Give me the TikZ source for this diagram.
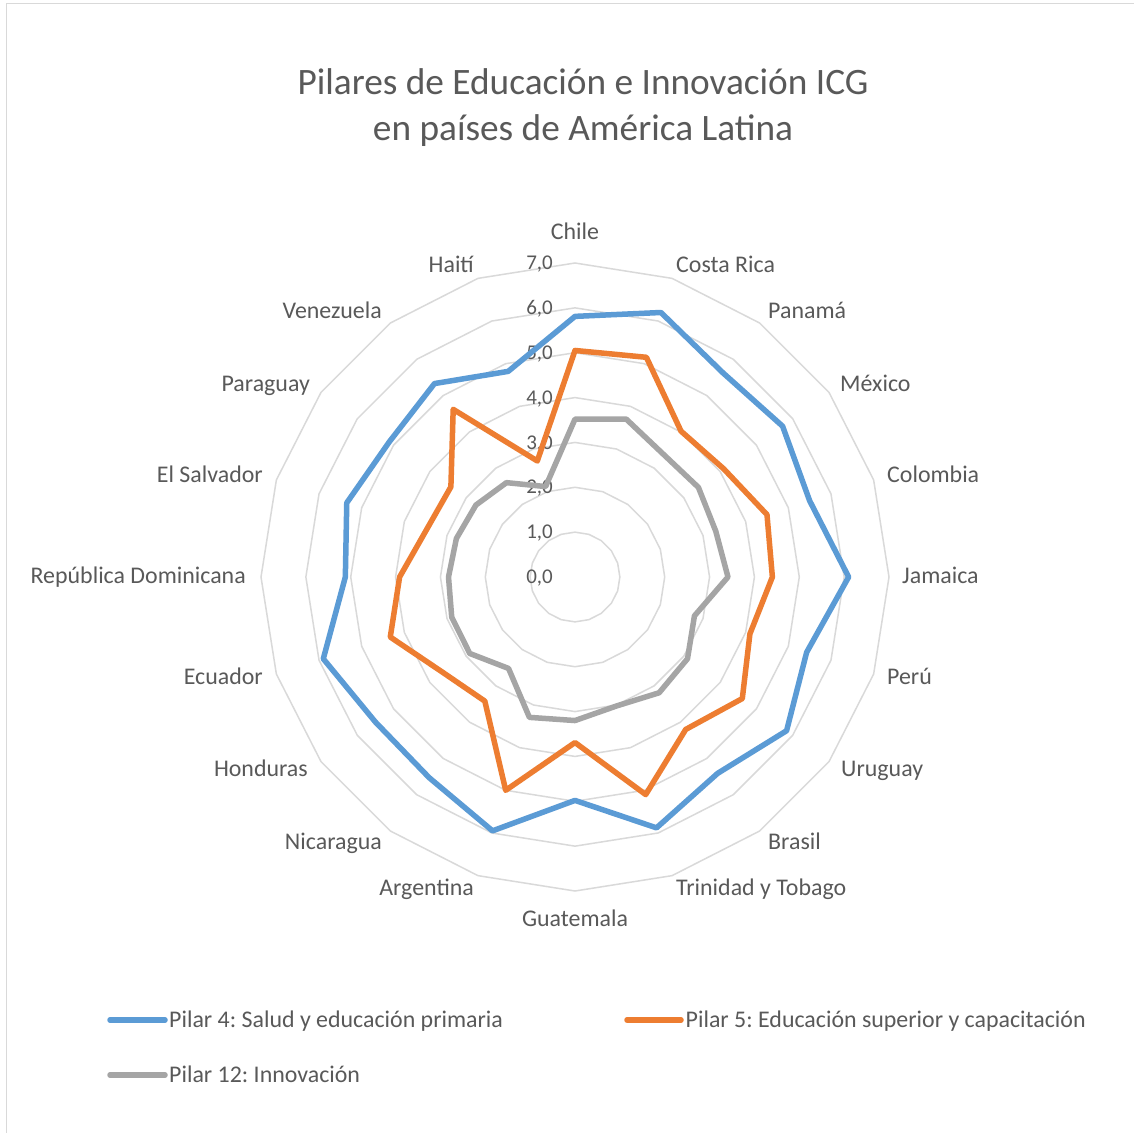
\documentclass[tikz,border=0pt]{standalone}
\usepackage{fontspec}
\setmainfont{Carlito}
\frenchspacing
\definecolor{sfour}{HTML}{5B9BD5}
\definecolor{sfive}{HTML}{ED7D31}
\definecolor{stwelve}{HTML}{A5A5A5}
\definecolor{gridc}{HTML}{D9D9D9}
\definecolor{txt}{HTML}{595959}
\begin{document}
\begin{tikzpicture}[x=1pt,y=-1pt,
  ser/.style={line width=5.5pt, line join=round},
  ring/.style={draw=gridc, line width=1.5pt},
  cat/.style={text=txt, font=\fontsize{23.9}{28}\selectfont, inner sep=0pt},
  ticklab/.style={text=txt, font=\fontsize{21}{25}\selectfont, inner sep=0pt, anchor=base east},
  ttl/.style={text=txt, font=\fontsize{37.3}{46}\selectfont, inner sep=0pt, anchor=base},
  legline/.style={line width=5.5pt, line cap=round}]
\useasboundingbox (0,0) rectangle (1134,1132);
\fill[white] (0,0) rectangle (1134,1132);
\draw[gridc, line width=1.5pt] (6.5,1140) -- (6.5,3.5) -- (1140,3.5);
% title
\node[ttl] (t1) at (583,94) {Pilares de Educación e Innovación ICG};
\node[ttl] (t2) at (583,140) {en países de América Latina};
\begin{scope}[shift={(575,577)}]
  \foreach \k in {1,...,7} {
    \draw[ring] (-90:{\k*44.857}) \foreach \i in {1,...,19}{ -- ({-90+18*\i}:{\k*44.857})} -- cycle;
  }
  \foreach \k in {0,...,7} {
    \node[ticklab] (tk\k) at (-22,{-\k*44.857+6.6}) {\k,0};
  }
  \foreach \v [count=\i from 0] in {5.81,6.2,5.62,5.72,5.5,6.1,5.43,5.83,5.41,5.88,4.98,5.95,5.53,5.5,5.9,5.12,5.35,5.12,5.33,4.82}
    { \coordinate (a\i) at ({-90+18*\i}:{\v*44.857}); }
  \foreach \v [count=\i from 0] in {5.05,5.15,4.02,4.1,4.5,4.4,4.1,4.61,4.2,5.1,3.69,5.0,3.42,3.63,4.33,3.91,3.47,3.42,4.62,2.72}
    { \coordinate (b\i) at ({-90+18*\i}:{\v*44.857}); }
  \foreach \v [count=\i from 0] in {3.52,3.7,3.37,3.4,3.3,3.41,2.8,3.1,3.19,3.02,3.2,3.29,2.52,2.9,2.89,2.82,2.78,2.73,2.6,2.12}
    { \coordinate (c\i) at ({-90+18*\i}:{\v*44.857}); }
  \draw[ser, sfour] (a0) \foreach \i in {1,...,19}{ -- (a\i)} -- cycle;
  \draw[ser, sfive] (b0) \foreach \i in {1,...,19}{ -- (b\i)} -- cycle;
  \draw[ser, stwelve] (c0) \foreach \i in {1,...,19}{ -- (c\i)} -- cycle;
\end{scope}
% category labels (baselines)
\node[cat, anchor=base] (l0) at (575,239.7) {Chile};
\node[cat, anchor=base west] (l1) at (676,272.7) {Costa Rica};
\node[cat, anchor=base west] (l2) at (768,318.7) {Panamá};
\node[cat, anchor=base west] (l3) at (840,391.7) {México};
\node[cat, anchor=base west] (l4) at (887,482.7) {Colombia};
\node[cat, anchor=base west] (l5) at (902,583.7) {Jamaica};
\node[cat, anchor=base west] (l6) at (887,684.7) {Perú};
\node[cat, anchor=base west] (l7) at (841,776.7) {Uruguay};
\node[cat, anchor=base west] (l8) at (768,849.7) {Brasil};
\node[cat, anchor=base west] (l9) at (676,895.7) {Trinidad y Tobago};
\node[cat, anchor=base] (l10) at (575,926.7) {Guatemala};
\node[cat, anchor=base east] (l11) at (474,895.7) {Argentina};
\node[cat, anchor=base east] (l12) at (382,849.7) {Nicaragua};
\node[cat, anchor=base east] (l13) at (308,776.7) {Honduras};
\node[cat, anchor=base east] (l14) at (263,684.7) {Ecuador};
\node[cat, anchor=base east] (l15) at (246,583.7) {República Dominicana};
\node[cat, anchor=base east] (l16) at (263,482.7) {El Salvador};
\node[cat, anchor=base east] (l17) at (310,391.7) {Paraguay};
\node[cat, anchor=base east] (l18) at (382,318.7) {Venezuela};
\node[cat, anchor=base east] (l19) at (474,272.7) {Haití};
% legend
\coordinate (g1a) at (110,1020); \coordinate (g1b) at (165,1020);
\coordinate (g2a) at (627,1020); \coordinate (g2b) at (681,1020);
\coordinate (g3a) at (110,1075); \coordinate (g3b) at (165,1075);
\draw[legline, sfour] (g1a) -- (g1b);
\draw[legline, sfive] (g2a) -- (g2b);
\draw[legline, stwelve] (g3a) -- (g3b);
\node[cat, anchor=base west] (lg1) at (169,1027.7) {Pilar 4: Salud y educación primaria};
\node[cat, anchor=base west] (lg2) at (685.5,1027.7) {Pilar 5: Educación superior y capacitación};
\node[cat, anchor=base west] (lg3) at (169,1082.7) {Pilar 12: Innovación};
\end{tikzpicture}
\end{document}
